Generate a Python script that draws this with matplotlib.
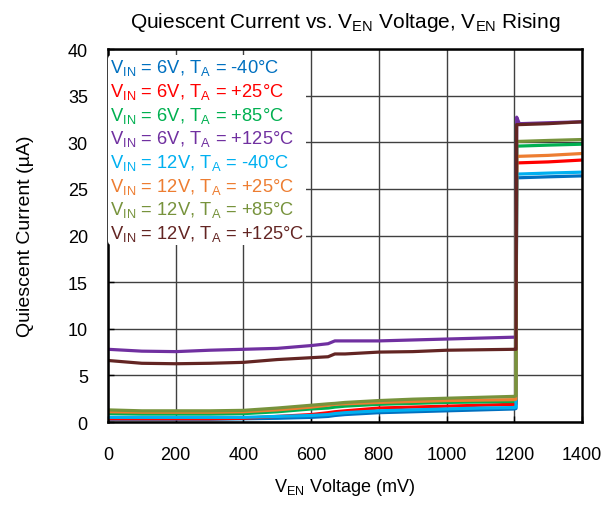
import matplotlib
matplotlib.use("Agg")
import matplotlib.pyplot as plt

plt.rcParams['font.family'] = ['Liberation Sans', 'DejaVu Sans']
plt.rcParams['mathtext.fontset'] = 'custom'
plt.rcParams['mathtext.rm'] = 'Liberation Sans'

# EN voltage (mV): below threshold, then after the step
x_low = [0, 100, 200, 300, 400, 500, 600, 650, 670, 700, 800, 900, 1000, 1100, 1200, 1205]
x_high = [1207, 1215, 1300, 1400]

labels = [
    r"V$_\mathrm{IN}$ = 6V, T$_\mathrm{A}$ = -40°C",
    r"V$_\mathrm{IN}$ = 6V, T$_\mathrm{A}$ = +25°C",
    r"V$_\mathrm{IN}$ = 6V, T$_\mathrm{A}$ = +85°C",
    r"V$_\mathrm{IN}$ = 6V, T$_\mathrm{A}$ = +125°C",
    r"V$_\mathrm{IN}$ = 12V, T$_\mathrm{A}$ = -40°C",
    r"V$_\mathrm{IN}$ = 12V, T$_\mathrm{A}$ = +25°C",
    r"V$_\mathrm{IN}$ = 12V, T$_\mathrm{A}$ = +85°C",
    r"V$_\mathrm{IN}$ = 12V, T$_\mathrm{A}$ = +125°C",
]
colors = ['#0070C0', '#FF0000', '#00B050', '#7030A0',
          '#00B0F0', '#ED7D31', '#77933C', '#632523']

# quiescent current (uA)
iq_low = [
    [0.3, 0.3, 0.3, 0.3, 0.35, 0.4, 0.5, 0.6, 0.7, 0.8, 1.0, 1.1, 1.2, 1.3, 1.4, 1.45],
    [0.35, 0.35, 0.35, 0.35, 0.4, 0.6, 0.8, 1.0, 1.1, 1.2, 1.5, 1.6, 1.7, 1.8, 1.9, 1.95],
    [0.9, 0.85, 0.85, 0.85, 0.9, 1.1, 1.4, 1.5, 1.6, 1.7, 1.9, 2.0, 2.1, 2.15, 2.2, 2.25],
    [7.8, 7.6, 7.55, 7.7, 7.8, 7.9, 8.2, 8.4, 8.7, 8.7, 8.7, 8.8, 8.9, 9.0, 9.1, 9.15],
    [0.5, 0.5, 0.5, 0.5, 0.5, 0.6, 0.7, 0.8, 0.9, 1.0, 1.2, 1.3, 1.4, 1.5, 1.55, 1.6],
    [1.1, 1.05, 1.05, 1.05, 1.1, 1.3, 1.6, 1.8, 1.9, 1.95, 2.1, 2.2, 2.3, 2.35, 2.4, 2.45],
    [1.3, 1.2, 1.2, 1.2, 1.25, 1.5, 1.8, 1.95, 2.0, 2.1, 2.3, 2.45, 2.55, 2.65, 2.75, 2.8],
    [6.6, 6.3, 6.25, 6.3, 6.4, 6.7, 6.9, 7.0, 7.3, 7.3, 7.5, 7.55, 7.7, 7.75, 7.8, 7.8],
]
iq_high = [
    [26.2, 26.2, 26.3, 26.4],
    [27.8, 27.8, 27.9, 28.1],
    [29.6, 29.6, 29.7, 29.8],
    [32.7, 32.0, 32.1, 32.2],
    [26.6, 26.6, 26.7, 26.8],
    [28.5, 28.5, 28.6, 28.8],
    [30.1, 30.1, 30.2, 30.3],
    [31.9, 31.9, 32.0, 32.2],
]

fig = plt.figure(figsize=(6.05, 5.06), dpi=100)
ax = fig.add_axes([0.1785, 0.164, 0.7835, 0.737])

for lab, c, lo, hi in zip(labels, colors, iq_low, iq_high):
    ax.plot(x_low + x_high, lo + hi, color=c, lw=2.3, label=lab)

ax.set_xlim(0, 1400)
ax.set_ylim(0, 40)
ax.set_xticks(range(0, 1401, 200))
ax.set_yticks(range(0, 41, 5))
ax.grid(True, color='#404040', lw=1.0)
ax.set_axisbelow(True)
for s in ax.spines.values():
    s.set_linewidth(1.8)
    s.set_color('black')
ax.tick_params(labelsize=13, length=4, width=1, direction='in')
ax.tick_params(axis='x', pad=17.5)
ax.tick_params(axis='y', pad=14.5)

ax.set_xlabel(r"V$_\mathrm{EN}$ Voltage (mV)", fontsize=13, labelpad=9)
ax.set_ylabel(r"Quiescent Current (µA)", fontsize=14, labelpad=24)
ax.set_title(r"Quiescent Current vs. V$_\mathrm{EN}$ Voltage, V$_\mathrm{EN}$ Rising",
             fontsize=15, pad=16)

leg = ax.legend(loc='upper left', bbox_to_anchor=(0.0, 0.983), frameon=True,
                fontsize=13.2, handlelength=0, handletextpad=0, labelspacing=0.2,
                borderaxespad=0.0, borderpad=0.1, labelcolor=colors)
leg.get_frame().set_facecolor('white')
leg.get_frame().set_edgecolor('none')
leg.get_frame().set_alpha(1.0)
for h in leg.legend_handles:
    h.set_visible(False)

fig.savefig("out.png", dpi=100)
